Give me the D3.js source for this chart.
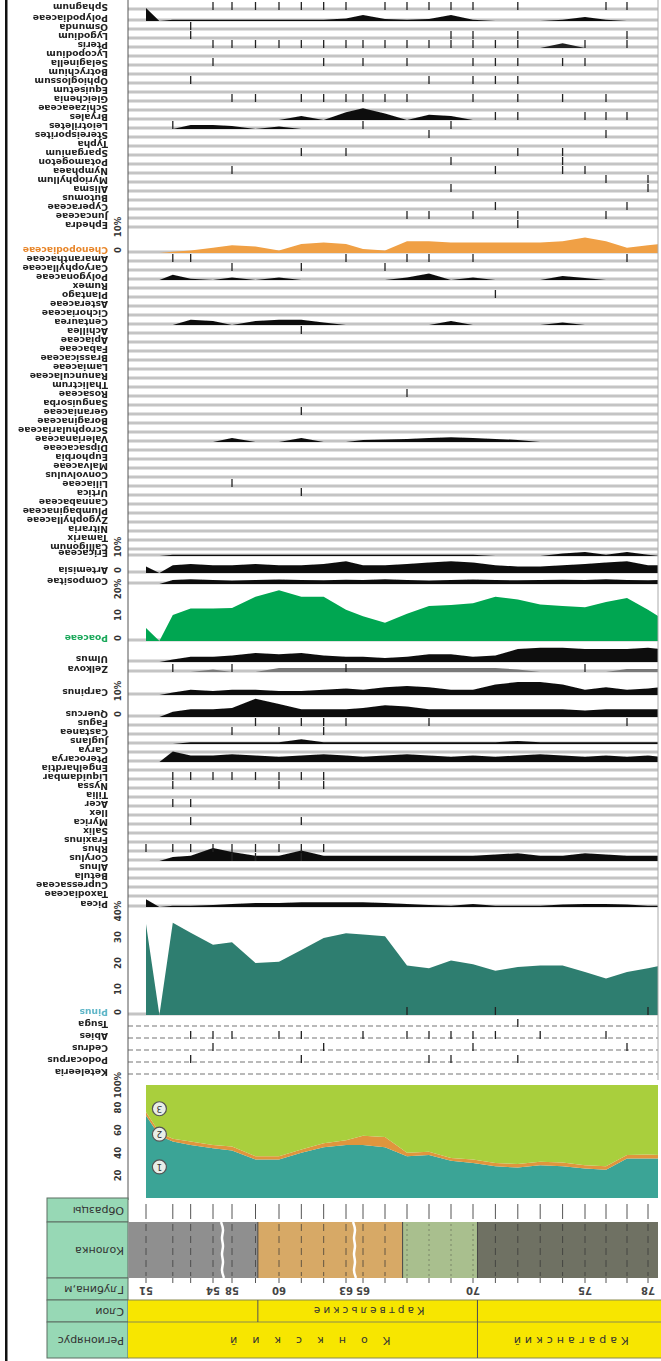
<!DOCTYPE html>
<html>
<head>
<meta charset="utf-8">
<script src="https://d3js.org/d3.v7.min.js"></script>
<style>
  body { margin: 0; background: #fff; }
  text { font-family: "DejaVu Sans", sans-serif; }
</style>
</head>
<body>
<svg width="661" height="1361"></svg>
<script>
// depth of each spectrum, m (51.6 is barren, 78.6 is the cut edge of the plate)
var depth = [51, 51.6, 52.2, 53, 54, 58, 59, 60, 61, 62, 63, 65, 66, 67, 68, 69, 70, 71, 72, 73, 74, 75, 76, 77, 78, 78.6];
var samplesTaken = [51, 52.2, 53, 54, 58, 59, 60, 61, 62, 63, 65, 66, 67, 68, 69, 70, 71, 72, 73, 74, 75, 76, 77, 78];
var depthTicks = [51, 54, 58, 60, 63, 65, 70, 75, 78];

// taxa, top of plate to bottom
var taxa = [
  "Sphagnum", "Polypodiaceae", "Osmunda", "Lygodium", "Pteris", "Lycopodium", "Selaginella",
  "Botrychium", "Ophioglossum", "Equisetum", "Gleichenia", "Schizaeaceae", "Bryales", "Leiotriletes",
  "Stereisporites", "Typha", "Sparganium", "Potamogeton", "Nymphaea", "Myriophyllum", "Alisma",
  "Butomus", "Cyperaceae", "Juncaceae", "Ephedra",
  "Chenopodiaceae",
  "Amaranthaceae", "Caryophyllaceae", "Polygonaceae", "Rumex", "Plantago", "Asteraceae", "Cichoriaceae",
  "Centaurea", "Achillea", "Apiaceae", "Fabaceae", "Brassicaceae", "Lamiaceae", "Ranunculaceae",
  "Thalictrum", "Rosaceae", "Sanguisorba", "Geraniaceae", "Boraginaceae", "Scrophulariaceae",
  "Valerianaceae", "Dipsacaceae", "Euphorbia", "Malvaceae", "Convolvulus", "Liliaceae", "Urtica",
  "Cannabaceae", "Plumbaginaceae", "Zygophyllaceae", "Nitraria", "Tamarix", "Calligonum",
  "Ericaceae", "Artemisia", "Compositae",
  "Poaceae",
  "Ulmus", "Zelkova", "Carpinus", "Quercus",
  "Fagus", "Castanea", "Juglans", "Carya", "Pterocarya", "Engelhardtia", "Liquidambar", "Nyssa",
  "Tilia", "Acer", "Ilex", "Myrica", "Salix", "Fraxinus", "Rhus", "Corylus", "Alnus", "Betula",
  "Cupressaceae", "Taxodiaceae",
  "Picea",
  "Pinus",
  "Tsuga", "Abies", "Cedrus", "Podocarpus", "Keteleeria"
];

// single finds (+), depth of each, per taxon row
var plus = [
  [54, 58, 59, 60, 61, 62, 63, 66, 67, 68, 69, 70, 72, 76, 77], [], [53], [53, 69, 70, 72, 77],
  [54, 58, 59, 60, 61, 62, 63, 65, 66, 67, 68, 69, 70, 71, 72, 75, 77], [], [54, 62, 65, 67, 70, 71, 72, 74, 75], [],
  [53, 68, 70, 71, 72], [], [58, 59, 61, 62, 63, 65, 66, 67, 70, 72, 74, 76], [], [71, 72, 75, 76, 77],
  [52.2, 65, 69], [68, 76], [], [61, 63, 72, 74], [69, 74], [58, 71, 74, 75], [76, 78], [69, 78], [],
  [71, 77], [67, 68, 70, 72, 76], [72],
  [],
  [52.2, 53, 63, 67, 68, 70, 77], [58, 61, 66], [], [], [71], [], [], [], [61], [], [], [], [], [], [],
  [67], [], [61], [], [], [], [], [], [], [], [58], [61], [], [], [], [], [], [],
  [], [], [],
  [],
  [], [52.2, 58, 63, 75], [], [],
  [59, 61, 62, 63, 68, 77], [58, 60, 62], [], [], [], [], [52.2, 53, 54, 58, 59, 60, 61, 62], [52.2, 60, 62],
  [], [52.2, 53], [], [53, 61], [], [], [51, 52.2, 53, 54, 58, 59, 60, 61, 62], [58, 59, 61], [], [], [],
  [],
  [],
  [67, 71, 78], [72], [53, 54, 58, 60, 61, 65, 67, 68, 69, 70, 71, 73, 76], [54, 62, 70, 77], [53, 61, 68, 69, 72]
];

// percentage curves, one value per depth level
var polypodium = [5, 0, 0.5, 0.5, 0.5, 0.5, 0.5, 0.5, 0.5, 0.5, 1, 2.3, 0.8, 0.5, 0.8, 2.3, 0.5, 0, 0, 0, 0.5, 1.5, 0.5, 0, 0, 0];
var pteris = [0, 0, 0, 0, 0, 0, 0, 0, 0, 0, 0, 0, 0, 0, 0, 0, 0, 0, 0, 0, 1.8, 0, 0, 0, 0, 0];
var bryales = [0, 0, 0, 0, 0, 0, 0, 0, 1.5, 0, 3, 4.5, 2.5, 0, 2, 1.5, 0, 0, 0, 0, 0, 0, 0, 0, 0, 0];
var leiotriletes = [0, 0, 0, 1.5, 1.5, 1.2, 0, 1, 0, 0, 0, 0, 0, 0, 0, 0, 0, 0, 0, 0, 0, 0, 0, 0, 0, 0];
var chenopod = [0, 0, 0.5, 1, 2, 3, 2.5, 1, 3.5, 4, 3.5, 1.5, 1, 4.5, 4.5, 4, 4, 4, 4, 4, 4.5, 6, 4.5, 2, 3, 3.5];
var polygonum = [0, 0, 2, 0.5, 0, 1, 0, 1, 0, 0, 0, 0, 0, 1, 2.5, 0, 1, 0, 0, 0, 1.5, 0.8, 0, 0, 0, 0];
var asteraceae = [0, 0, 0, 2, 1.5, 0, 1.5, 2, 2, 1, 0, 0, 0, 0, 0, 1.5, 0, 0, 0, 0, 1, 0, 0, 0, 0, 0];
var sanguisorba = [0, 0, 0, 0, 0, 1.5, 0, 0, 1.5, 0, 0, 0.8, 1, 1.2, 1.5, 1.8, 1.5, 1.2, 0.8, 0, 0, 0, 0, 0, 0, 0];
var ericaceae = [0, 0, 0.5, 0.5, 0.5, 0.5, 0.5, 0.5, 0.5, 0.5, 0.5, 0.5, 0.5, 0.5, 0.5, 0.5, 0.5, 0, 0, 0, 1, 1.5, 0.5, 1.5, 0.5, 0];
var artemisia = [2.5, 0, 3, 3.5, 3, 3, 3.5, 3, 3, 3.5, 4.5, 3, 3, 3.5, 4, 4.5, 4, 3, 2.5, 2.5, 3, 3.5, 4, 4.5, 3, 3];
var compositae = [0, 0, 1.5, 1.8, 1.5, 1.3, 1.5, 1.7, 1.5, 1.4, 1.6, 1.5, 1.8, 1.5, 1.3, 1.5, 1.7, 1.5, 1.4, 1.5, 1.6, 1.5, 1.8, 1.5, 1.4, 1.5];
var poaceae = [5, 0, 10, 12.5, 12.5, 12.7, 17, 19.5, 17, 17, 12, 9.5, 7, 10.5, 13.5, 13.8, 14.5, 17, 16, 14, 13.5, 13, 15, 16.5, 12, 9];
var ulmus = [0, 0, 1, 2, 2, 2.5, 3.5, 3, 3.5, 2.5, 2, 2, 1.5, 2, 3, 3, 2, 2.5, 5, 5.5, 5.5, 5, 5, 5, 5.5, 5];
var zelkova = [0, 0, 0, 0, 1, 0, 0, 1.5, 1.5, 1.5, 1.5, 1.5, 1.5, 1.5, 1.5, 1.5, 1.5, 1.5, 1, 0, 0, 0, 0, 1.2, 1.2, 1.2];
var carpinus = [0, 0, 1, 2, 1.5, 2, 2, 1.5, 1.5, 2, 2.5, 2, 3, 3.5, 3, 2, 2, 4, 5, 5, 4, 2, 3, 2, 2.5, 3];
var quercus = [0, 0, 2, 3, 3, 3.5, 7, 5, 3, 3, 3, 3.5, 4.5, 4, 3, 3, 3, 3, 3, 3, 3, 2.5, 3, 3, 3, 3];
var carya = [0, 0, 0, 0.7, 0.7, 0.7, 0.7, 0.7, 1.8, 0.7, 0.7, 0.7, 0.7, 0.7, 0.7, 0.7, 0.7, 0.7, 1.2, 0.7, 0.7, 0.7, 0.7, 0.7, 0.7, 0.7];
var liquidambar = [0, 0, 4, 2.5, 2.5, 3, 2.5, 2, 2.5, 3, 2.5, 2, 2.5, 3, 2.5, 2, 2.5, 2, 2.5, 3, 2.5, 2, 2.5, 2, 2.5, 2];
var alnus = [0, 0, 1.5, 2, 5, 3.5, 2, 2, 4, 2, 2, 2, 2, 2, 2, 2, 2, 2.5, 3, 2, 2, 3, 2.5, 2, 2, 2];
var picea = [3, 0, 0.5, 0.5, 0.8, 1.2, 1.5, 1.5, 1.8, 1.8, 1.8, 1.8, 1.5, 1.2, 0.8, 0.5, 1.2, 0.5, 0.5, 0.5, 1, 1.2, 1.2, 1, 0.5, 0.5];
var pinus = [35, 0, 35.5, 31.6, 27, 28, 20, 20.5, 25, 29.6, 31.4, 31, 30.3, 19, 18, 21, 19.5, 17, 18.5, 19, 19, 16.5, 14, 16.5, 18, 19];

// summary diagram, % of the spectrum
var sumTrees = [73, 55, 50, 47, 44, 42, 34, 34, 40, 45, 47, 47, 45, 37, 38, 33, 31, 28, 27, 29, 28, 26, 25, 35, 35, 35];
var sumShrubs = [3, 3, 2.5, 3, 3, 3.5, 3, 3, 3, 3.5, 4, 8, 9, 3, 3, 2.5, 3, 3, 3, 3, 3.5, 3, 3, 3, 3.5, 3];
var sumHerbs = [24, 42, 47.5, 50, 53, 54.5, 63, 63, 57, 51.5, 49, 45, 46, 60, 59, 64.5, 66, 69, 70, 68, 68.5, 71, 72, 62, 61.5, 62];
var groupNames = ["1", "2", "3"];

// lithology
var lithFrom = [50.2, 59.1, 66.8, 70.2];
var lithTo = [59.1, 66.8, 70.2, 80];
var lithColor = ["#8f8f8f", "#d7a966", "#a9bf8e", "#6f7163"];
var breaks = [56, 64];

// stratigraphy
var layerNames = ["", "Картвельские", ""];
var layerFrom = [50.2, 59.1, 70.2];
var layerTo = [59.1, 70.2, 80];
var stageNames = ["Конкский", "Караганский"];
var stageFrom = [50.2, 70.2];
var stageTo = [70.2, 79.5];
var headNames = ["Образцы", "Колонка", "Глубина,м", "Слои", "Регионярус"];

var svg = d3.select('svg');

var x = d3.scaleLinear().domain(depthTicks).range([146, 213, 232, 279, 346, 363, 473, 585, 648]);
var k = 2.6; // px per percent
var plotL = 128, plotR = 658;

// baseline of every taxon row
var rowY = d3.scaleLinear()
  .domain([0, 1, 24, 25, 58, 59, 60, 61, 62, 63, 64, 65, 66, 86, 87, 88, 93])
  .range([10, 21, 228, 253, 550, 556, 573, 584, 641, 662, 672, 695, 717, 897, 907, 1015, 1075]);

var curves = [
  { row: 1, pct: polypodium, fill: '#111' },
  { row: 4, pct: pteris, fill: '#222' },
  { row: 12, pct: bryales, fill: '#111' },
  { row: 13, pct: leiotriletes, fill: '#111' },
  { row: 25, pct: chenopod, fill: '#f0a044' },
  { row: 28, pct: polygonum, fill: '#111' },
  { row: 33, pct: asteraceae, fill: '#111' },
  { row: 46, pct: sanguisorba, fill: '#111' },
  { row: 59, pct: ericaceae, fill: '#111' },
  { row: 60, pct: artemisia, fill: '#111' },
  { row: 61, pct: compositae, fill: '#111' },
  { row: 62, pct: poaceae, fill: '#00a651' },
  { row: 63, pct: ulmus, fill: '#111' },
  { row: 64, pct: zelkova, fill: '#7a7a7a' },
  { row: 65, pct: carpinus, fill: '#111' },
  { row: 66, pct: quercus, fill: '#111' },
  { row: 69, pct: carya, fill: '#111' },
  { row: 71, pct: liquidambar, fill: '#111' },
  { row: 82, pct: alnus, fill: '#111' },
  { row: 87, pct: picea, fill: '#111' },
  { row: 88, pct: pinus, fill: '#2f7e6f' }
];
var labelColor = { 25: '#e8862a', 62: '#1aa85a', 88: '#5fb6c8' };
var scaled = [{ row: 25, max: 10 }, { row: 60, max: 10 }, { row: 62, max: 20 }, { row: 66, max: 10 }, { row: 88, max: 40 }];

var defs = svg.append('defs');
defs.append('clipPath').attr('id', 'plotclip')
  .append('rect').attr('x', plotL).attr('y', 0).attr('width', plotR - plotL).attr('height', 1361);
defs.append('filter').attr('id', 'soft')
  .append('feGaussianBlur').attr('stdDeviation', 0.45);

// frame
svg.append('rect').attr('x', 5).attr('y', 0).attr('width', 2.5).attr('height', 1361).attr('fill', '#111');

var plot = svg.append('g').attr('clip-path', 'url(#plotclip)').append('g').attr('filter', 'url(#soft)');

// row guide lines
taxa.forEach(function(t, i) {
  var b = rowY(i);
  var dashed = i >= 89;
  plot.append('line')
    .attr('x1', plotL).attr('x2', plotR)
    .attr('y1', b - 1).attr('y2', b - 1)
    .attr('stroke', dashed ? '#b9b9b9' : '#c4c4c4')
    .attr('stroke-width', dashed ? 2 : 3)
    .attr('stroke-dasharray', dashed ? '5,3' : null);
});

// curves
curves.forEach(function(c) {
  var b = rowY(c.row);
  var area = d3.area()
    .x(function(d, i) { return x(depth[i]); })
    .y0(b)
    .y1(function(d) { return b - d * k; });
  plot.append('path').datum(c.pct).attr('d', area).attr('fill', c.fill);
});

// + finds
plus.forEach(function(list, i) {
  var b = rowY(i);
  plot.selectAll(null).data(list).enter().append('line')
    .attr('x1', function(d) { return x(d); }).attr('x2', function(d) { return x(d); })
    .attr('y1', b - 8).attr('y2', b)
    .attr('stroke', '#222').attr('stroke-width', 1.3);
});

// left axis of the plate
svg.append('line').attr('x1', plotL).attr('x2', plotL).attr('y1', 0).attr('y2', 1200)
  .attr('stroke', '#555').attr('stroke-width', 1);
svg.append('line').attr('x1', plotR).attr('x2', plotR).attr('y1', 0).attr('y2', 1080)
  .attr('stroke', '#aaa').attr('stroke-width', 1);

// taxon names, upside down like the scanned plate
svg.append('g').attr('filter', 'url(#soft)').selectAll('text').data(taxa).enter().append('text')
  .attr('transform', function(d, i) { return 'translate(108,' + (rowY(i) - 4) + ') rotate(180) scale(1.15,1)'; })
  .attr('dominant-baseline', 'middle')
  .attr('font-size', 8).attr('font-weight', 'bold')
  .attr('fill', function(d, i) { return labelColor[i] || '#222'; })
  .text(function(d) { return d; });

// percent scales for the main curves
scaled.forEach(function(s) {
  var b = rowY(s.row);
  var vals = d3.range(0, s.max + 1, 10);
  svg.append('g').selectAll('text').data(vals).enter().append('text')
    .attr('transform', function(v) { return 'translate(121,' + (b - v * k) + ') rotate(-90)'; })
    .attr('text-anchor', function(v) { return v === 0 ? 'start' : 'middle'; })
    .attr('font-size', 8.5).attr('font-weight', 'bold')
    .attr('fill', '#333')
    .text(function(v) { return v === s.max ? v + '%' : v; });
});

// summary diagram
var sumY = d3.scaleLinear().domain([0, 100]).range([1198, 1085]);
var sumRows = depth.map(function(d, i) { return { trees: sumTrees[i], shrubs: sumShrubs[i], herbs: sumHerbs[i] }; });
var stacked = d3.stack().keys(['trees', 'shrubs', 'herbs'])(sumRows);
var sumColor = ['#3ba496', '#e0953e', '#a9cf3d'];
var sumArea = d3.area()
  .x(function(d, i) { return x(depth[i]); })
  .y0(function(d) { return sumY(d[0]); })
  .y1(function(d) { return sumY(d[1]); });
plot.selectAll('.sum').data(stacked).enter().append('path')
  .attr('d', sumArea).attr('fill', function(d, i) { return sumColor[i]; });

stacked.forEach(function(s, i) {
  var cy = sumY((s[1][0] + s[1][1]) / 2);
  var cx = x(depth[1]);
  svg.append('circle').attr('cx', cx).attr('cy', cy).attr('r', 7)
    .attr('fill', '#e8eee8').attr('stroke', '#555').attr('stroke-width', 1.2);
  svg.append('text').attr('transform', 'translate(' + cx + ',' + cy + ') rotate(180)')
    .attr('text-anchor', 'middle').attr('dominant-baseline', 'central')
    .attr('font-size', 9).attr('fill', '#333').text(groupNames[i]);
});

svg.append('g').selectAll('text').data([20, 40, 60, 80, 100]).enter().append('text')
  .attr('transform', function(v) { return 'translate(121,' + sumY(v) + ') rotate(-90)'; })
  .attr('text-anchor', 'middle')
  .attr('font-size', 8.5).attr('font-weight', 'bold').attr('fill', '#333')
  .text(function(v) { return v === 100 ? '100%' : v; });

// header cells
var hdrY = [1198, 1222, 1278, 1300, 1322, 1358];
headNames.forEach(function(h, i) {
  svg.append('rect').attr('x', 47).attr('y', hdrY[i]).attr('width', 81).attr('height', hdrY[i + 1] - hdrY[i])
    .attr('fill', '#97d8b5').attr('stroke', '#5d6f63').attr('stroke-width', 1);
  svg.append('text')
    .attr('transform', 'translate(124,' + (hdrY[i] + hdrY[i + 1]) / 2 + ') rotate(180)')
    .attr('dominant-baseline', 'central')
    .attr('font-size', 11).attr('fill', '#333').text(h);
});

// sample marks
svg.selectAll('.smp').data(samplesTaken).enter().append('line')
  .attr('x1', function(d) { return x(d); }).attr('x2', function(d) { return x(d); })
  .attr('y1', 1204).attr('y2', 1219).attr('stroke', '#555').attr('stroke-width', 1);

// lithology column
var col = svg.append('g').attr('clip-path', 'url(#plotclip)');
lithFrom.forEach(function(f, i) {
  col.append('rect').attr('x', x(f)).attr('y', 1222).attr('width', x(lithTo[i]) - x(f)).attr('height', 56)
    .attr('fill', lithColor[i]);
});
col.selectAll('.lv').data(samplesTaken).enter().append('line')
  .attr('x1', function(d) { return x(d); }).attr('x2', function(d) { return x(d); })
  .attr('y1', 1224).attr('y2', 1276)
  .attr('stroke', function(d) { return d > lithFrom[2] && d < lithFrom[3] ? '#66705a' : '#333'; })
  .attr('stroke-opacity', 0.7)
  .attr('stroke-dasharray', function(d) { return d > lithFrom[2] && d < lithFrom[3] ? '2,3' : '7,5'; });
lithFrom.slice(1).forEach(function(f) {
  col.append('line').attr('x1', x(f)).attr('x2', x(f)).attr('y1', 1222).attr('y2', 1278).attr('stroke', '#444');
});
breaks.forEach(function(b) {
  var bx = x(b);
  var pts = d3.range(0, 8).map(function(j) { return [bx + (j % 2 ? 1.5 : -1.5), 1222 + j * 8]; });
  col.append('path').attr('d', d3.line().curve(d3.curveBasis)(pts))
    .attr('fill', 'none').attr('stroke', '#fff').attr('stroke-width', 2.5);
});

// depth scale
svg.selectAll('.dt').data(samplesTaken).enter().append('line')
  .attr('x1', function(d) { return x(d); }).attr('x2', function(d) { return x(d); })
  .attr('y1', 1278).attr('y2', 1283).attr('stroke', '#555');
svg.selectAll('.dl').data(depthTicks).enter().append('text')
  .attr('transform', function(d) { return 'translate(' + x(d) + ',1290) rotate(180)'; })
  .attr('text-anchor', 'middle').attr('dominant-baseline', 'central')
  .attr('font-size', 10).attr('font-weight', 'bold').attr('fill', '#444').text(function(d) { return d; });

// layers and regional stages
svg.append('rect').attr('x', plotL).attr('y', 1300).attr('width', 661 - plotL).attr('height', 58).attr('fill', '#f7e600');
[1300, 1322, 1358].forEach(function(y) {
  svg.append('line').attr('x1', plotL).attr('x2', 661).attr('y1', y).attr('y2', y).attr('stroke', '#8a8a50').attr('stroke-width', 1.2);
});
layerNames.forEach(function(n, i) {
  if (i > 0) svg.append('line').attr('x1', x(layerFrom[i])).attr('x2', x(layerFrom[i])).attr('y1', 1300).attr('y2', 1322).attr('stroke', '#555');
  svg.append('text')
    .attr('transform', 'translate(' + (x(layerFrom[i]) + Math.min(x(layerTo[i]), 661)) / 2 + ',1311) rotate(180)')
    .attr('text-anchor', 'middle').attr('dominant-baseline', 'central')
    .attr('font-size', 10.5).attr('letter-spacing', 3).attr('fill', '#333').text(n);
});
stageNames.forEach(function(n, i) {
  if (i > 0) svg.append('line').attr('x1', x(stageFrom[i])).attr('x2', x(stageFrom[i])).attr('y1', 1300).attr('y2', 1358).attr('stroke', '#555');
  svg.append('text')
    .attr('transform', 'translate(' + (x(stageFrom[i]) + Math.min(x(stageTo[i]), 661)) / 2 + ',1340) rotate(180)')
    .attr('text-anchor', 'middle').attr('dominant-baseline', 'central')
    .attr('font-size', 11).attr('letter-spacing', i === 0 ? 15 : 4).attr('fill', '#333').text(n);
});
</script>
</body>
</html>
